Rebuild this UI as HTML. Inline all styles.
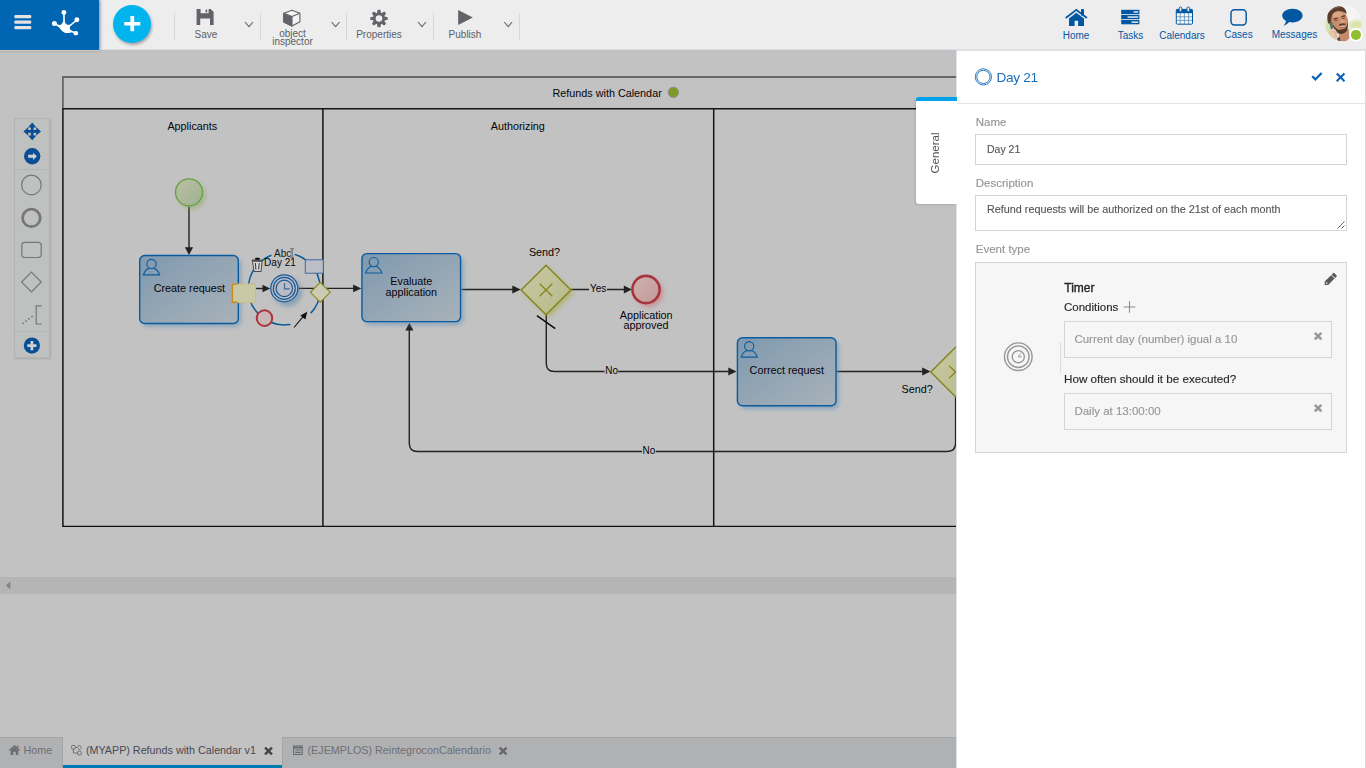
<!DOCTYPE html>
<html>
<head>
<meta charset="utf-8">
<title>Refunds with Calendar</title>
<style>
*{box-sizing:border-box;margin:0;padding:0}
html,body{width:1366px;height:768px;overflow:hidden;background:#c2c2c2;font-family:"Liberation Sans",sans-serif;}
.abs{position:absolute}
#topbar{position:absolute;left:0;top:0;width:1366px;height:50px;background:#ecedec;border-bottom:1px solid #dcdfe5}
#brand{position:absolute;left:0;top:0;width:99px;height:50px;background:#0066b3;box-shadow:1px 0 3px rgba(0,0,0,.45)}
#brandline{position:absolute;left:0;top:50px;width:99px;height:1px;background:#cfc9c3}
#plus{position:absolute;left:113px;top:5px;width:38px;height:38px;border-radius:50%;background:#00b5ee;box-shadow:1px 2px 3px rgba(0,0,0,.3)}
.sep{position:absolute;top:13px;width:1px;height:27px;background:#d6d7d7}
.tlabel{position:absolute;margin-top:.4px;font-size:10px;color:#606066;text-align:center;line-height:8px;white-space:nowrap}
.nlabel{position:absolute;font-size:10px;color:#0257a3;text-align:center;white-space:nowrap;line-height:10px}
#canvas{position:absolute;left:0;top:0;width:956px;height:768px;overflow:hidden}
#hscroll{position:absolute;left:0;top:577px;width:956px;height:17px;background:#b5b5b5}
#tabbar{position:absolute;left:0;top:737px;width:956px;height:31px;background:#b0b1b3;border-top:1px solid #a6a6a7}
.tab{position:absolute;top:0;height:31px;font-size:10.75px;color:#6e6e74;white-space:nowrap}
#panel{position:absolute;left:956px;top:50px;width:410px;height:718px;background:#fff;border-left:1px solid #dfe2e8;border-right:1px solid #d9dbdb;border-top:1px solid #e0e2e4}
#gtab{position:absolute;left:916px;top:97px;width:41px;height:107px;background:#fff;border-top:4px solid #00a3e9;border-radius:3px 0 0 3px;box-shadow:-1px 1px 2px rgba(0,0,0,.12)}
.plabel{position:absolute;margin-top:-.4px;left:975.8px;font-size:11.5px;color:#959595;-webkit-text-stroke:.15px #959595;white-space:nowrap;line-height:14px}
.inp{position:absolute;left:975px;width:372px;border:1px solid #d2d5d8;background:#fff;font-size:10.5px;color:#555;-webkit-text-stroke:.12px #555;white-space:nowrap}
.cbox{position:absolute;left:1064px;width:268px;height:37px;border:1px solid #d2d5d8;font-size:11.5px;color:#979797;-webkit-text-stroke:.15px #979797;line-height:14px;white-space:nowrap}
</style>
</head>
<body>

<!-- ================= CANVAS ================= -->
<div id="canvas">
<svg id="diagram" width="956" height="768" viewBox="0 0 956 768" style="position:absolute;left:0;top:0;font-family:'Liberation Sans',sans-serif">
<defs>
<filter id="blur2" x="-30%" y="-30%" width="160%" height="160%"><feGaussianBlur stdDeviation="2.2"/></filter>
<filter id="blur15" x="-40%" y="-40%" width="180%" height="180%"><feGaussianBlur stdDeviation="1.8"/></filter>
<linearGradient id="gTask" x1="0" y1="0" x2="1" y2="1"><stop offset="0" stop-color="#7f99af"/><stop offset="1" stop-color="#a8b2b9"/></linearGradient>
<linearGradient id="gGate" x1="0" y1="0" x2="1" y2="1"><stop offset="0" stop-color="#c8c9a3"/><stop offset="1" stop-color="#b8b98a"/></linearGradient>
<linearGradient id="gStart" x1="0" y1="0" x2="1" y2="1"><stop offset="0" stop-color="#babfa5"/><stop offset="1" stop-color="#a0b192"/></linearGradient>
<linearGradient id="gEnd" x1="0" y1="0" x2="1" y2="1"><stop offset="0" stop-color="#d0b1b1"/><stop offset="1" stop-color="#c29999"/></linearGradient>
</defs>
<g fill="none">
<path d="M62.9 109 V77 H960" stroke="#666" stroke-width="1.8"/>
<path d="M960 108.7 H62.9 V526.8" stroke="#151515" stroke-width="1.5"/>
<path d="M62.2 526.3 H960" stroke="#101010" stroke-width="1.2"/>
<path d="M322.9 108.7 V526.3 M713.7 108.7 V526.3" stroke="#151515" stroke-width="1.5"/>
</g>
<text x="552.5" y="96.9" font-size="10.8" fill="#050508">Refunds with Calendar</text>
<circle cx="673.4" cy="92.3" r="5.2" fill="#7f9a2b" stroke="#8d8d86" stroke-width=".9"/>
<text x="192.3" y="129.8" text-anchor="middle" font-size="10.8" fill="#050508">Applicants</text>
<text x="517.8" y="129.8" text-anchor="middle" font-size="10.8" fill="#050508">Authorizing</text>
<g fill="none" stroke="#222" stroke-width="1.4">
<path d="M189 206.5 V248"/>
<path d="M256 288.5 H263"/>
<path d="M298.4 288.4 H354"/>
<path d="M461.5 289.5 H513"/>
<path d="M571.2 289.5 H625"/>
<path d="M546.3 315 V363.5 Q546.3 371.5 554.3 371.5 H729"/>
<path d="M836.5 371.5 H923"/>
<path d="M955.6 397 V443 Q955.6 451.5 947 451.5 H417.5 Q409.3 451.5 409.3 443.5 V330"/>
<path d="M536.9 315.6 L555.3 328.7" stroke="#0c0c0c" stroke-width="1.55"/>
</g>
<g fill="#222">
<path d="M184.9 247.3 H193.1 L189 254.9 Z"/>
<path d="M262.5 284.7 V292.3 L270.2 288.5 Z"/>
<path d="M353.1 284.5 V292.3 L361.3 288.4 Z"/>
<path d="M512.3 285.6 V293.4 L520.7 289.5 Z"/>
<path d="M623.8 285.6 V293.4 L631.8 289.5 Z"/>
<path d="M728.3 367.6 V375.4 L736.5 371.5 Z"/>
<path d="M922.2 367.6 V375.4 L930.5 371.5 Z"/>
<path d="M405.3 330.6 H413.4 L409.4 322.8 Z"/>
</g>
<rect x="589" y="284" width="18" height="10" fill="#c2c2c2"/>
<text x="589.9" y="292" font-size="10" fill="#050508">Yes</text>
<rect x="604.6" y="366" width="13.6" height="10" fill="#c2c2c2"/>
<text x="605.3" y="374" font-size="10" fill="#050508">No</text>
<rect x="642" y="446" width="13.8" height="10" fill="#c2c2c2"/>
<text x="642.6" y="454" font-size="10" fill="#050508">No</text>
<circle cx="192" cy="195.6" r="13.6" fill="#86a85c" opacity=".5" filter="url(#blur2)"/>
<circle cx="189" cy="192.3" r="13.5" fill="url(#gStart)" stroke="#62a13a" stroke-width="1.3"/>
<rect x="142.20" y="258.35" width="99.00" height="68.40" rx="6" fill="#5f8db8" opacity=".55" filter="url(#blur2)"/>
<rect x="139.70" y="255.45" width="98.60" height="68.00" rx="5" fill="url(#gTask)" stroke="#0a5c9e" stroke-width="1.4"/>
<g fill="none" stroke="#0a5c9e" stroke-width="1.1"><circle cx="151.50" cy="263.95" r="4.6"/><path d="M143.30 274.65 Q146.10 268.85 149.30 268.15 M153.70 268.15 Q156.90 268.85 159.70 274.65 M142.90 274.85 H160.10"/></g>
<text x="189.4" y="291.6" text-anchor="middle" font-size="10.8" fill="#050508">Create request</text>
<rect x="364.45" y="256.50" width="99.00" height="68.40" rx="6" fill="#5f8db8" opacity=".55" filter="url(#blur2)"/>
<rect x="361.95" y="253.60" width="98.60" height="68.00" rx="5" fill="url(#gTask)" stroke="#0a5c9e" stroke-width="1.4"/>
<g fill="none" stroke="#0a5c9e" stroke-width="1.1"><circle cx="373.75" cy="262.10" r="4.6"/><path d="M365.55 272.80 Q368.35 267.00 371.55 266.30 M375.95 266.30 Q379.15 267.00 381.95 272.80 M365.15 273.00 H382.35"/></g>
<text x="411.3" y="284.8" text-anchor="middle" font-size="10.8" fill="#050508">Evaluate</text>
<text x="411.3" y="295.7" text-anchor="middle" font-size="10.8" fill="#050508">application</text>
<rect x="739.90" y="340.65" width="99.00" height="68.40" rx="6" fill="#5f8db8" opacity=".55" filter="url(#blur2)"/>
<rect x="737.40" y="337.75" width="98.60" height="68.00" rx="5" fill="url(#gTask)" stroke="#0a5c9e" stroke-width="1.4"/>
<g fill="none" stroke="#0a5c9e" stroke-width="1.1"><circle cx="749.20" cy="346.25" r="4.6"/><path d="M741.00 356.95 Q743.80 351.15 747.00 350.45 M751.40 350.45 Q754.60 351.15 757.40 356.95 M740.60 357.15 H757.80"/></g>
<text x="786.8" y="373.7" text-anchor="middle" font-size="10.8" fill="#050508">Correct request</text>
<path d="M549 267.9 L574 292.9 L549 317.9 L524 292.9 Z" fill="#a3a432" opacity=".5" filter="url(#blur2)"/>
<path d="M546 265.2 L570.9 289.9 L546 314.7 L521.1 289.9 Z" fill="url(#gGate)" stroke="#84841a" stroke-width="1.4"/>
<path d="M539.7 283.7 L552.3 296.3 M552.3 283.7 L539.7 296.3" stroke="#84841a" stroke-width="1.3" fill="none"/>
<text x="544.5" y="256" text-anchor="middle" font-size="10.8" fill="#050508">Send?</text>
<path d="M955.5 347.3 L980.2 372 L955.5 396.8 L930.8 372 Z" fill="url(#gGate)" stroke="#84841a" stroke-width="1.4"/>
<path d="M949 365.6 L962 378.4 M962 365.6 L949 378.4" stroke="#84841a" stroke-width="1.3" fill="none"/>
<text x="917.1" y="392.6" text-anchor="middle" font-size="10.8" fill="#050508">Send?</text>
<circle cx="649" cy="292.8" r="14.2" fill="#c9636b" opacity=".5" filter="url(#blur2)"/>
<circle cx="646" cy="289.5" r="13.6" fill="url(#gEnd)" stroke="#a8353e" stroke-width="2.6"/>
<text x="646.2" y="319" text-anchor="middle" font-size="10.8" fill="#050508">Application</text>
<text x="646" y="328.5" text-anchor="middle" font-size="10.8" fill="#050508">approved</text>
<g fill="none" stroke="#0a5a9a" stroke-width="1.5">
<circle cx="284.3" cy="288.9" r="36"/>
</g>
<!-- gaps in ring -->
<g fill="#c2c2c2">
<rect x="271.5" y="249" width="23" height="9.5"/>
<path d="M303 306 L318 320 L300 334 L288 322 Z"/>
</g>
<!-- timer event -->
<circle cx="287.6" cy="292" r="14.5" fill="#5a82a8" opacity=".5" filter="url(#blur2)"/>
<circle cx="284.3" cy="288.4" r="13.5" fill="#bcbcc6" stroke="#175a96" stroke-width="1.2"/>
<circle cx="284.3" cy="288.4" r="11" fill="none" stroke="#175a96" stroke-width="1.2"/>
<circle cx="284.3" cy="288.4" r="8.2" fill="none" stroke="#175a96" stroke-width="1.2"/>
<path d="M284.5 283.2 V288.9 H289.8" fill="none" stroke="#3a6c9e" stroke-width="1.2"/>
<!-- yellow rect -->
<rect x="232" y="284" width="23.6" height="18.6" fill="#c9c9a5" stroke="#c6be86" stroke-width="1"/>
<path d="M237.3 284.2 H232.3 V302.4 H237.3" fill="none" stroke="#c78d1e" stroke-width="1.6"/>
<!-- trash -->
<g>
<path d="M252.5 261.3 H262 L261.1 271.5 H254 Z" fill="#d9d9d9" stroke="#3a3a3a" stroke-width=".9"/>
<path d="M255.4 263 L255.9 269.6 M259.2 263 L258.7 269.6" stroke="#333" stroke-width="1" fill="none"/>
<ellipse cx="256.8" cy="260.3" rx="5.5" ry="1.15" fill="#555"/>
<rect x="255.1" y="257.8" width="4.7" height="1.9" rx=".9" fill="#0c0c0c"/>
</g>
<!-- gray rect -->
<rect x="305.3" y="259.8" width="18" height="13.4" fill="#bebec8" stroke="#3f6a9e" stroke-width="1"/>
<!-- small diamond -->
<path d="M320.3 282.4 L330.2 292.3 L320.3 302.2 L310.4 292.3 Z" fill="#cacbb2" stroke="#8c8c20" stroke-width="1.2"/>
<!-- red circle -->
<circle cx="264.5" cy="318.1" r="7.8" fill="#cab6b4" stroke="#ab343d" stroke-width="2"/>
<!-- arrow -->
<path d="M294 327.5 L303.5 316.2" stroke="#111" stroke-width="1.1" fill="none"/>
<path d="M307.2 311.8 L305.4 319.6 L300.4 315.4 Z" fill="#111"/>
<!-- labels -->
<text x="274.1" y="256.9" font-size="10" fill="#1a1a22">Abc</text>
<path d="M292.1 248.8 V257.4 M290.2 248.7 H294 M290.2 257.5 H294" stroke="#808080" stroke-width="1.6" fill="none"/>
<text x="264.1" y="265.7" font-size="10" fill="#050508">Day 21</text>
</svg>
<div id="hscroll"><svg width="20" height="17" style="position:absolute;left:0;top:0"><path d="M10.3 4.6 L10.3 12.2 L5.9 8.4 Z" fill="#828282"/></svg></div>
<div class="abs" style="left:14px;top:118px;width:36px;height:240px;background:#bfc0c0;border:1px solid #b2b3b3;box-shadow:1px 1px 2px rgba(0,0,0,.12)"></div>
<svg width="36" height="240" viewBox="14 118 36 240" style="position:absolute;left:14px;top:118px">
<path d="M15 169.6 H49 M15 331.7 H49" stroke="#b4b5b5" stroke-width="1"/>
<!-- move -->
<g fill="#084f93">
<path transform="translate(32.2 131.4)" d="M0,-8.8 L4.2,-4 H1.35 V-1.35 H4 V-4.2 L8.8,0 L4,4.2 V1.35 H1.35 V4 H4.2 L0,8.8 L-4.2,4 H-1.35 V1.35 H-4 V4.2 L-8.8,0 L-4,-4.2 V-1.35 H-1.35 V-4 H-4.2 Z"/>
<circle cx="32.2" cy="156.3" r="8.2"/>
<circle cx="31.9" cy="345.6" r="8.1"/>
</g>
<path d="M28.1 154.8 H33 V152.7 L37 156.3 L33 159.9 V157.8 H28.1 Z" fill="#cdd1d6"/>
<path d="M30.5 341 H33.3 V344.2 H36.5 V347 H33.3 V350.2 H30.5 V347 H27.3 V344.2 H30.5 Z" fill="#cdd1d6"/>
<g fill="none" stroke="#77767a">
<circle cx="31.4" cy="184.9" r="9.8" stroke-width="1.2"/>
<circle cx="31.4" cy="217.9" r="8.8" stroke-width="2.8"/>
<rect x="21.8" y="242.3" width="19.4" height="15.2" rx="3" stroke-width="1.2"/>
<path d="M31.4 272.2 L41.2 282 L31.4 291.8 L21.6 282 Z" stroke-width="1.2"/>
<path d="M41.6 305.9 H36.2 V324 H41.6" stroke-width="1.2"/>
<path d="M22.3 323.8 L34.4 314.8" stroke-width="1.6" stroke-dasharray="1.6 2.2"/>
</g>
</svg>
<div id="tabbar">
<div class="abs" style="left:62px;top:-1px;width:1px;height:32px;background:#a3a3a5"></div>
<div class="abs" style="left:63px;top:-1px;width:218.5px;height:31px;background:#c2c2c2;border-bottom:3px solid #0079b5"></div>
<div class="abs" style="left:281.5px;top:0;width:1px;height:31px;background:#a6a6a8"></div>
<svg width="520" height="31" viewBox="0 737 520 31" style="position:absolute;left:0;top:-1px">
<g fill="#6b6b72">
<path d="M10.7 750.2 L14.5 747 L18.3 750.2 V754.9 H15.7 V751.8 H13.3 V754.9 H10.7 Z"/>
<path d="M8.9 750 L14.5 745 L20.1 750 L19.3 751 L14.5 746.8 L9.7 751 Z"/>
<rect x="17" y="745.6" width="1.3" height="2.6"/>
</g>
<g fill="none" stroke="#5e5e68" stroke-width=".8">
<rect x="71.6" y="745.5" width="3.6" height="3.6" rx=".8"/>
<path d="M79.4 745 L81.6 747.4 L79.4 749.8 L77.2 747.4 Z"/>
<rect x="77.6" y="751.2" width="3.6" height="3.6" rx=".8"/>
<path d="M73.4 749.2 V753 H77.4 M75.4 747.4 H77"/>
</g>
<path d="M264.2 748.4 L265.9 746.7 L268.5 749.3 L271.1 746.7 L272.8 748.4 L270.2 751 L272.8 753.6 L271.1 755.3 L268.5 752.7 L265.9 755.3 L264.2 753.6 L266.8 751 Z" fill="#444"/>
<g fill="none" stroke="#66666e" stroke-width="1">
<rect x="293.6" y="745.9" width="8.6" height="8.6"/>
<path d="M293.6 747.6 H302.2" stroke-width="1.6"/>
<path d="M295.2 750 H300.8 M295.2 752.4 H300.8" stroke-width="1.1"/>
</g>
<path d="M498.8 748.4 L500.5 746.7 L503.1 749.3 L505.7 746.7 L507.4 748.4 L504.8 751 L507.4 753.6 L505.7 755.3 L503.1 752.7 L500.5 755.3 L498.8 753.6 L501.4 751 Z" fill="#66666c"/>
</svg>
<div class="tab" style="left:23.5px;top:4.8px;line-height:14px">Home</div>
<div class="tab" style="left:85.9px;top:4.8px;line-height:14px;color:#494955">(MYAPP) Refunds with Calendar v1</div>
<div class="tab" style="left:307.5px;top:4.8px;line-height:14px">(EJEMPLOS) ReintegroconCalendario</div>
</div>
</div>

<!-- ================= TOP BAR ================= -->
<div id="topbar">
<div id="plus"><svg width="38" height="38" viewBox="0 0 38 38"><rect x="11.3" y="17" width="16" height="3.5" fill="#fff"/><rect x="17.4" y="11" width="3.8" height="15.2" fill="#fff"/></svg></div>
<div class="sep" style="left:174px"></div>
<div class="sep" style="left:260px"></div>
<div class="sep" style="left:346px"></div>
<div class="sep" style="left:433px"></div>
<div class="sep" style="left:519px"></div>
<svg width="560" height="50" viewBox="0 0 560 50" style="position:absolute;left:0;top:0">
<!-- save -->
<path fill="#636268" d="M196.6 9 H210.6 L213.6 12 V25 H196.6 Z M200.6 9 V13.2 H208.6 V9 Z M200.2 18.4 V25 H210 V18.4 Z"/>
<rect x="205.6" y="9.6" width="1.6" height="2.8" fill="#636268"/>
<!-- chevrons -->
<g fill="none" stroke="#66656b" stroke-width="1.1">
<path d="M245 22 L249 26.6 L253 22"/>
<path d="M331.6 22 L335.6 26.6 L339.6 22"/>
<path d="M418 22 L422 26.6 L426 22"/>
<path d="M504.2 22 L508.2 26.6 L512.2 22"/>
</g>
<!-- cube -->
<g>
<path d="M283.8 13.2 L292 10.2 L299.9 13.2 L299.9 21.7 L292 25.9 L283.8 21.9 Z" fill="#f4f4f4" stroke="#636268" stroke-width="1.1" stroke-linejoin="round"/>
<path d="M283.8 13.2 L292 16.5 L292 25.9 L283.8 21.9 Z" fill="#636268" stroke="#636268" stroke-width="1.1" stroke-linejoin="round"/>
<path d="M292 16.5 L299.9 13.2" fill="none" stroke="#636268" stroke-width="1.1"/>
</g>
<!-- gear -->
<g transform="translate(379 18.5)" fill="#636268">
<g id="teeth"><path d="M-2.1 -5 L-1.35 -8.7 H1.35 L2.1 -5 Z" transform="rotate(0)"/><path d="M-2.1 -5 L-1.35 -8.7 H1.35 L2.1 -5 Z" transform="rotate(45)"/><path d="M-2.1 -5 L-1.35 -8.7 H1.35 L2.1 -5 Z" transform="rotate(90)"/><path d="M-2.1 -5 L-1.35 -8.7 H1.35 L2.1 -5 Z" transform="rotate(135)"/><path d="M-2.1 -5 L-1.35 -8.7 H1.35 L2.1 -5 Z" transform="rotate(180)"/><path d="M-2.1 -5 L-1.35 -8.7 H1.35 L2.1 -5 Z" transform="rotate(225)"/><path d="M-2.1 -5 L-1.35 -8.7 H1.35 L2.1 -5 Z" transform="rotate(270)"/><path d="M-2.1 -5 L-1.35 -8.7 H1.35 L2.1 -5 Z" transform="rotate(315)"/></g>
<circle r="5.9"/>
<circle r="3.3" fill="#ecedec"/>
</g>
<!-- play -->
<path d="M458.2 10 L472.8 17.5 L458.2 25 Z" fill="#636268"/>
</svg>
<div class="tlabel" style="left:176px;width:60px;top:29.6px;line-height:10px">Save</div>
<div class="tlabel" style="left:262px;width:61px;top:30.1px">object<br>inspector</div>
<div class="tlabel" style="left:349px;width:60px;top:29.6px;line-height:10px">Properties</div>
<div class="tlabel" style="left:435px;width:60px;top:29.6px;line-height:10px">Publish</div>
<!-- right nav -->
<svg width="320" height="50" viewBox="1046 0 320 50" style="position:absolute;left:1046px;top:0">
<!-- home -->
<g fill="#0257a3">
<path d="M1069 18.5 L1076.3 12.8 L1084 18.5 V26 H1078.1 V20.8 H1074.6 V26 H1069 Z"/>
<path d="M1065.7 18 L1076.3 9.9 L1086.9 18" fill="none" stroke="#0257a3" stroke-width="1.8"/>
<rect x="1081" y="9.1" width="3" height="6.4"/>
</g>
<!-- tasks -->
<g>
<rect x="1121.2" y="9.8" width="18.2" height="4.3" fill="#0257a3"/>
<rect x="1121.2" y="14.9" width="18.2" height="4.3" fill="#0257a3"/>
<rect x="1121.2" y="20" width="18.2" height="4.3" fill="#0257a3"/>
<rect x="1133.6" y="11.2" width="4.6" height="1.5" fill="#e6e8ea"/>
<rect x="1127.6" y="16.3" width="10.6" height="1.5" fill="#e6e8ea"/>
<rect x="1131.6" y="21.4" width="6.6" height="1.5" fill="#e6e8ea"/>
</g>
<!-- calendar -->
<g>
<rect x="1176.3" y="9.4" width="16.2" height="14.8" rx="1" fill="#f7f7f7" stroke="#0257a3" stroke-width="1"/>
<rect x="1176.3" y="9.4" width="16.2" height="3.8" fill="#0257a3"/>
<g stroke="#0257a3" stroke-width=".7" opacity=".75">
<path d="M1180.2 13 V24 M1184.4 13 V24 M1188.6 13 V24 M1176.5 16.8 H1192.4 M1176.5 20.4 H1192.4"/>
</g>
<rect x="1179.2" y="7" width="2.6" height="4.6" rx="1.2" fill="#ecedec" stroke="#0257a3" stroke-width=".9"/>
<rect x="1187" y="7" width="2.6" height="4.6" rx="1.2" fill="#ecedec" stroke="#0257a3" stroke-width=".9"/>
</g>
<!-- cases -->
<rect x="1231" y="9.8" width="15.2" height="15.2" rx="3.4" fill="none" stroke="#0257a3" stroke-width="1.45"/>
<!-- messages -->
<path fill="#0257a3" d="M1292.6 8.8 C1298.4 8.8 1302.6 11.8 1302.6 15.6 C1302.6 19.4 1298.4 22.4 1292.6 22.4 C1291.4 22.4 1290.2 22.3 1289.2 22 C1287.6 23.8 1285.6 25.2 1283.6 25.8 C1284.8 24.6 1285.8 22.8 1286 21 C1283.6 19.8 1282.2 17.8 1282.2 15.6 C1282.2 11.8 1286.8 8.8 1292.6 8.8 Z"/>
<!-- avatar -->
<defs><clipPath id="avc"><circle cx="1343.3" cy="23.1" r="18.2"/></clipPath>
<filter id="avb" x="-10%" y="-10%" width="120%" height="120%"><feGaussianBlur stdDeviation=".6"/></filter>
<filter id="avb2" x="-30%" y="-30%" width="160%" height="160%"><feGaussianBlur stdDeviation="1.6"/></filter></defs>
<g clip-path="url(#avc)">
<rect x="1324" y="3" width="40" height="40" fill="#f4f4f2"/>
<g filter="url(#avb2)">
<ellipse cx="1357" cy="24.5" rx="8" ry="4" fill="#d9e3a8"/>
<ellipse cx="1353" cy="31" rx="7" ry="4" fill="#e6ecc8"/>
<ellipse cx="1329" cy="27" rx="5" ry="8" fill="#d6e0ac"/>
<ellipse cx="1331" cy="36" rx="5" ry="5" fill="#c9d89a"/>
</g>
<g filter="url(#avb)">
<!-- shirt / neck -->
<path d="M1334 43 L1336 36 L1349 33 L1353 43 Z" fill="#ecebea"/>
<path d="M1339 31 L1348.6 28.6 L1349.6 38 L1345 42 L1338.6 41 Z" fill="#c58a6b"/>
<path d="M1337 38 L1339.6 37 L1340.6 41.6 L1337.6 41.6 Z" fill="#3f4a4a"/>
<!-- face -->
<ellipse cx="1339.8" cy="21" rx="8.3" ry="11.2" fill="#c98d6c" transform="rotate(-14 1339.8 21)"/>
<ellipse cx="1337.6" cy="14.6" rx="5.4" ry="3.2" fill="#d9a582" transform="rotate(-14 1337.6 14.6)"/>
<ellipse cx="1342.6" cy="22" rx="2.4" ry="3" fill="#d9a27f"/>
<!-- hair -->
<path d="M1327.4 20 Q1326.4 11.4 1332 8.2 Q1338.4 5 1343.4 7.4 Q1346.4 9.6 1346.6 14 Q1343 10.8 1338 11 Q1333.4 11.6 1332 15.4 Q1331.2 18.6 1331.4 22.4 Q1329.4 22.4 1329 24.4 Q1327.6 22.6 1327.4 20 Z" fill="#593d2b"/>
<path d="M1330 10.6 Q1334 7 1340 7.4" stroke="#7a563c" stroke-width="1.2" fill="none"/>
<!-- brows / eyes -->
<path d="M1333.6 19.2 L1337.8 17.8 M1341.4 16.6 L1345.4 15.8" stroke="#4a3122" stroke-width="1.1" fill="none"/>
<path d="M1334.6 20.8 L1337.6 20 M1342 18.8 L1345 18.2" stroke="#5e4636" stroke-width=".9" fill="none"/>
<!-- beard -->
<path d="M1332.6 24 Q1333.6 30.6 1338.4 33.6 Q1343.6 35.4 1347 30.6 Q1348.6 26.4 1347.8 21.6 Q1347.4 27 1344.8 28.4 Q1341 30.6 1337.6 29.4 Q1334.4 27.6 1332.6 24 Z" fill="#4f3828"/>
<path d="M1339.2 24.6 Q1341.6 22.8 1345.2 23.6 L1345.6 25 Q1342 24.6 1339.4 26 Z" fill="#553a2a"/>
<path d="M1339.8 26.4 Q1342.6 27.2 1345.6 25.4 Q1344.6 28.2 1341.6 28.2 Q1340.2 27.8 1339.8 26.4 Z" fill="#a4655a"/>
<path d="M1340.4 26.6 Q1342.6 27 1344.8 26 " stroke="#efe2da" stroke-width=".7" fill="none"/>
<!-- hand + phone -->
<path d="M1329.4 22.6 L1332.2 22 L1333.4 28.6 L1330.8 29.4 Z" fill="#4f7565"/>
<path d="M1330 30 Q1332.6 27.4 1335.4 29.4 Q1338.4 33 1337.6 38 Q1335.6 42 1332.4 40 Q1329.6 36 1330 30 Z" fill="#e8c2aa"/>
<path d="M1334 31 Q1336.4 33 1336.2 36.6" stroke="#cf9d86" stroke-width=".8" fill="none"/>
</g>
</g>
<circle cx="1356" cy="34.9" r="6.9" fill="#fff"/>
<circle cx="1356" cy="34.9" r="5" fill="#8fc02a"/>
</svg>
<div class="nlabel" style="left:1046px;width:60px;top:30.5px">Home</div>
<div class="nlabel" style="left:1100.5px;width:60px;top:30.5px">Tasks</div>
<div class="nlabel" style="left:1152px;width:60px;top:30.5px">Calendars</div>
<div class="nlabel" style="left:1208.5px;width:60px;top:29.5px">Cases</div>
<div class="nlabel" style="left:1264.5px;width:60px;top:30px">Messages</div>
</div>
<div id="brand">
<svg width="99" height="50" viewBox="0 0 99 50" style="position:absolute;left:0;top:0">
<rect x="14.3" y="15" width="17" height="3.2" rx="1.2" fill="#e3e3e3"/>
<rect x="14.3" y="20.5" width="17" height="3.2" rx="1.2" fill="#e3e3e3"/>
<rect x="14.3" y="26" width="17" height="3.2" rx="1.2" fill="#e3e3e3"/>
<g fill="#fff" stroke="#fff" stroke-linecap="round">
<circle cx="63.9" cy="12.5" r="2.45" stroke="none"/>
<circle cx="76.9" cy="19.8" r="2.45" stroke="none"/>
<circle cx="54.4" cy="23.6" r="2.5" stroke="none"/>
<rect x="73.6" y="31" width="4.5" height="4.3" rx="1.9" stroke="none"/>
<path d="M63.9 13 L64.1 24 M76.6 20 L68.5 27 M54.8 23.8 L61 27 M75.6 33 L69 30.6" fill="none" stroke-width="1.6"/>
<path stroke="none" d="M57.8 25 Q61.6 25.6 63.2 21.4 L64.9 21.4 Q65.4 25.8 70.6 24.6 Q69.4 27 70 29.2 Q70.3 30.4 72 31 L71 32.4 Q67.5 33.6 64.2 32.4 Q61.6 31.2 60.2 28.8 Q59 27 57.4 26.2 Z"/>
</g>
</svg>
</div>
<div id="brandline"></div>

<!-- ================= RIGHT PANEL ================= -->
<div id="panel"></div>
<div id="gtab"></div>
<div id="pl" style="position:absolute;left:0;top:0;width:1366px;height:768px;will-change:transform;pointer-events:none">
<div class="abs" style="left:957px;top:103px;width:408px;height:1px;background:#e3e4e5"></div>
<svg width="410" height="60" viewBox="956 50 410 60" style="position:absolute;left:956px;top:50px">
<circle cx="983.4" cy="76.9" r="8.1" fill="none" stroke="#1f74bb" stroke-width=".95"/>
<circle cx="983.4" cy="76.9" r="6.6" fill="none" stroke="#1f74bb" stroke-width=".95"/>
<path d="M1311.4 77 L1313 75.4 L1315.4 77.8 L1320.8 72.2 L1322.4 73.8 L1315.4 81 Z" fill="#0a63b5"/>
<path d="M1336 74.2 L1337.5 72.7 L1340.6 75.8 L1343.7 72.7 L1345.2 74.2 L1342.1 77.3 L1345.2 80.4 L1343.7 81.9 L1340.6 78.8 L1337.5 81.9 L1336 80.4 L1339.1 77.3 Z" fill="#0a63b5"/>
</svg>
<div class="abs" style="left:996.5px;top:70px;font-size:13.6px;letter-spacing:-.3px;line-height:16px;color:#1a6cb8;white-space:nowrap">Day 21</div>
<div class="abs" id="gtxt" style="left:914.7px;top:101px;width:41px;height:103px"><div style="position:absolute;left:50%;top:50%;transform:translate(-50%,-50%) rotate(-90deg);font-size:11.5px;color:#555;white-space:nowrap;line-height:12px">General</div></div>

<div class="plabel" style="top:115px">Name</div>
<div class="inp" style="top:134px;height:31px;line-height:29px;padding-left:11px">Day 21</div>
<div class="plabel" style="top:176px">Description</div>
<div class="inp" style="top:195px;height:36px;line-height:14px;padding:6px 0 0 11px;font-size:10.8px">Refund requests will be authorized on the 21st of each month
<svg width="10" height="10" viewBox="0 0 10 10" style="position:absolute;right:1px;bottom:1px"><path d="M9.5 2.5 L2.5 9.5 M9.5 6.5 L6.5 9.5" stroke="#555" stroke-width=".9" fill="none"/></svg></div>
<div class="plabel" style="top:242px">Event type</div>
<div class="abs" style="left:975px;top:262px;width:372px;height:191px;background:#f6f6f6;border:1px solid #d2d4d8"></div>
<svg width="372" height="191" viewBox="975 262 372 191" style="position:absolute;left:975px;top:262px">
<g fill="none" stroke="#979797" stroke-width="1.4">
<circle cx="1018.3" cy="356.7" r="13.8"/>
<circle cx="1018.3" cy="356.7" r="10.8"/>
<circle cx="1018.3" cy="356.7" r="6.1"/>
<path d="M1020.7 353.4 L1018.3 356.8 H1021.8" stroke-width="1"/>
</g>
<path d="M1060.5 342 V373" stroke="#dcdcdc" stroke-width="1"/>
<path d="M1129.5 301.2 V312.8 M1123.6 307 H1135.4" stroke="#8a8a8a" stroke-width="1" fill="none"/>
<!-- pencil -->
<g transform="translate(1324.7 285) rotate(45)" fill="#58585c">
<path d="M0 0 L-2.45 -2.45 H2.45 Z"/>
<rect x="-2.45" y="-11.5" width="4.9" height="9.1"/>
<rect x="-2.45" y="-15.1" width="4.9" height="2.9" rx=".7"/>
<circle cx="0" cy="-2.9" r=".75" fill="#f6f6f6"/>
</g>
<!-- x icons -->
<g fill="#999">
<path d="M1313.9 333.7 L1315.7 331.9 L1318.1 334.3 L1320.5 331.9 L1322.3 333.7 L1319.9 336.1 L1322.3 338.5 L1320.5 340.3 L1318.1 337.9 L1315.7 340.3 L1313.9 338.5 L1316.3 336.1 Z"/>
<path transform="translate(0 72)" d="M1313.9 333.7 L1315.7 331.9 L1318.1 334.3 L1320.5 331.9 L1322.3 333.7 L1319.9 336.1 L1322.3 338.5 L1320.5 340.3 L1318.1 337.9 L1315.7 340.3 L1313.9 338.5 L1316.3 336.1 Z"/>
</g>
</svg>
<div class="abs" style="left:1064px;top:280px;font-size:12px;color:#222;-webkit-text-stroke:.35px #222;line-height:14px;margin-left:.3px;margin-top:1.2px">Timer</div>
<div class="abs" style="left:1064px;top:300px;font-size:11.5px;color:#2a2a2a;-webkit-text-stroke:.15px #2a2a2a;line-height:14px">Conditions</div>
<div class="cbox" style="top:321px;padding:10.2px 0 0 9.4px">Current day (number) igual a 10</div>
<div class="abs" style="left:1064px;top:372px;font-size:11.65px;color:#2a2a2a;-webkit-text-stroke:.15px #2a2a2a;line-height:14px;white-space:nowrap">How often should it be executed?</div>
<div class="cbox" style="top:393px;padding:10.2px 0 0 9.4px">Daily at 13:00:00</div>


</div>
</body>
</html>
